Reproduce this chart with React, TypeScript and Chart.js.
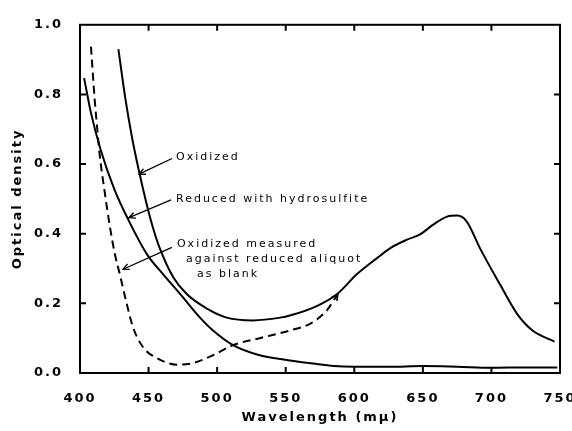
import React, { useEffect, useRef } from "react";
import { Chart, registerables } from "chart.js";

Chart.register(...registerables);

// Wavelength (mμ) and optical density for each curve
const oxidizedWl = [428, 433, 438, 443, 448, 453, 458, 468, 478, 492.6, 507, 526, 546, 553, 573, 587.5, 602, 616.6, 626, 638.5, 648, 657.5, 667.7, 675, 682, 691.7, 706, 718.7, 730, 746];
const oxidizedOD = [0.93, 0.79, 0.675, 0.58, 0.495, 0.42, 0.36, 0.275, 0.226, 0.185, 0.159, 0.151, 0.159, 0.165, 0.193, 0.227, 0.284, 0.33, 0.358, 0.383, 0.398, 0.426, 0.449, 0.452, 0.435, 0.358, 0.256, 0.17, 0.122, 0.09];

const reducedWl = [403, 408, 415, 425, 435, 449, 460.5, 473, 487.5, 497, 511.6, 531, 553, 570, 585, 600, 625, 650, 675, 700, 725, 748];
const reducedOD = [0.847, 0.747, 0.642, 0.528, 0.442, 0.34, 0.284, 0.227, 0.159, 0.122, 0.08, 0.051, 0.036, 0.027, 0.02, 0.018, 0.018, 0.02, 0.018, 0.015, 0.016, 0.016];

const blankWl = [408, 410.7, 412, 414.4, 418, 421.8, 425.5, 429, 434, 438.7, 446, 456, 470.7, 482, 497, 511.6, 531, 553, 568, 580, 588];
const blankOD = [0.937, 0.785, 0.727, 0.625, 0.52, 0.42, 0.34, 0.284, 0.2, 0.131, 0.074, 0.043, 0.024, 0.028, 0.051, 0.08, 0.1, 0.122, 0.142, 0.18, 0.227];

const xTicks = [400, 450, 500, 550, 600, 650, 700, 750];
const yTicks = [0, 0.2, 0.4, 0.6, 0.8, 1.0];

// Annotation labels (anchored in data coordinates)
const labelTexts = ["Oxidized", "Reduced with hydrosulfite", "Oxidized measured", "against reduced aliquot", "as blank"];
const labelWl = [470, 470, 470.7, 477.3, 485.3];
const labelOD = [0.62, 0.5, 0.369, 0.327, 0.284];

// Leader arrows
const arrowFromWl = [467.1, 466.4, 467];
const arrowFromOD = [0.616, 0.497, 0.361];
const arrowToWl = [443, 435.7, 431.4];
const arrowToOD = [0.571, 0.446, 0.298];

const FONT = "'DejaVu Sans', sans-serif";

function pts(xs: number[], ys: number[]) {
  return xs.map((x, i) => ({ x, y: ys[i] }));
}

function arrowHead(ctx: CanvasRenderingContext2D, fx: number, fy: number, tx: number, ty: number, len: number) {
  const a = Math.atan2(ty - fy, tx - fx);
  const s = 0.45;
  ctx.beginPath();
  ctx.moveTo(tx - len * Math.cos(a - s), ty - len * Math.sin(a - s));
  ctx.lineTo(tx, ty);
  ctx.lineTo(tx - len * Math.cos(a + s), ty - len * Math.sin(a + s));
  ctx.stroke();
}

const spacingPlugin = {
  id: "spacing",
  beforeUpdate(chart: any) {
    chart.ctx.letterSpacing = "2px";
  },
  beforeDraw(chart: any) {
    chart.ctx.letterSpacing = "2px";
  },
};

const framePlugin = {
  id: "frame",
  afterDatasetsDraw(chart: any) {
    const { ctx, chartArea: ca, scales } = chart;
    const xs = scales.x;
    const ys = scales.y;
    ctx.save();
    ctx.strokeStyle = "#000";
    ctx.lineWidth = 2;
    ctx.setLineDash([]);
    ctx.strokeRect(ca.left, ca.top, ca.right - ca.left, ca.bottom - ca.top);
    const tl = 6;
    ctx.beginPath();
    xTicks.slice(1, -1).forEach((v) => {
      const px = xs.getPixelForValue(v);
      ctx.moveTo(px, ca.bottom);
      ctx.lineTo(px, ca.bottom - tl);
      ctx.moveTo(px, ca.top);
      ctx.lineTo(px, ca.top + tl);
    });
    yTicks.slice(1, -1).forEach((v) => {
      const py = ys.getPixelForValue(v);
      ctx.moveTo(ca.left, py);
      ctx.lineTo(ca.left + tl, py);
      ctx.moveTo(ca.right, py);
      ctx.lineTo(ca.right - tl, py);
    });
    ctx.stroke();

    // labels
    ctx.fillStyle = "#000";
    ctx.font = `11px ${FONT}`;
    ctx.letterSpacing = "2px";
    ctx.textAlign = "left";
    ctx.textBaseline = "middle";
    labelTexts.forEach((t, i) => {
      ctx.fillText(t, xs.getPixelForValue(labelWl[i]), ys.getPixelForValue(labelOD[i]));
    });

    // leader arrows
    ctx.lineWidth = 1.3;
    arrowFromWl.forEach((_, i) => {
      const fx = xs.getPixelForValue(arrowFromWl[i]);
      const fy = ys.getPixelForValue(arrowFromOD[i]);
      const tx = xs.getPixelForValue(arrowToWl[i]);
      const ty = ys.getPixelForValue(arrowToOD[i]);
      ctx.beginPath();
      ctx.moveTo(fx, fy);
      ctx.lineTo(tx, ty);
      ctx.stroke();
      arrowHead(ctx, fx, fy, tx, ty, 7);
    });

    // arrowhead at end of dashed curve
    const n = blankWl.length;
    ctx.lineWidth = 1.6;
    arrowHead(
      ctx,
      xs.getPixelForValue(blankWl[n - 2]),
      ys.getPixelForValue(blankOD[n - 2]),
      xs.getPixelForValue(blankWl[n - 1]),
      ys.getPixelForValue(blankOD[n - 1]),
      7
    );
    ctx.restore();
  },
};

export default function App() {
  const ref = useRef<HTMLCanvasElement | null>(null);

  useEffect(() => {
    if (!ref.current) return;
    const line = {
      borderColor: "#000",
      borderWidth: 2,
      pointRadius: 0,
      fill: false,
      cubicInterpolationMode: "monotone" as const,
    };
    const chart = new Chart(ref.current, {
      type: "line",
      data: {
        datasets: [
          { ...line, label: "Oxidized", data: pts(oxidizedWl, oxidizedOD) },
          { ...line, label: "Reduced with hydrosulfite", data: pts(reducedWl, reducedOD) },
          { ...line, label: "Oxidized measured against reduced aliquot as blank", data: pts(blankWl, blankOD), borderDash: [8, 5] },
        ],
      },
      options: {
        animation: false,
        responsive: false,
        layout: { padding: { top: 21, right: 12, left: 0, bottom: 0 } },
        plugins: { legend: { display: false }, tooltip: { enabled: false } },
        scales: {
          x: {
            type: "linear",
            min: 400,
            max: 750,
            grid: { display: false, drawTicks: false },
            border: { display: false },
            ticks: {
              stepSize: 50,
              color: "#000",
              padding: 18,
              maxRotation: 0,
              font: { family: FONT, size: 13, weight: "bold" },
            },
            title: {
              display: true,
              text: "Wavelength (mμ)",
              color: "#000",
              font: { family: FONT, size: 13, weight: "bold" },
              padding: { top: 0, bottom: 6 },
            },
            afterFit: (s: any) => {
              s.height = 58;
              s.paddingLeft = 0;
              s.paddingRight = 0;
            },
          },
          y: {
            type: "linear",
            min: 0,
            max: 1.0,
            grid: { display: false, drawTicks: false },
            border: { display: false },
            ticks: {
              stepSize: 0.2,
              color: "#000",
              padding: 17,
              font: { family: FONT, size: 13, weight: "bold" },
              callback: (v: any) => Number(v).toFixed(1),
            },
            title: {
              display: true,
              text: "Optical density",
              color: "#000",
              font: { family: FONT, size: 13, weight: "bold" },
              padding: { top: 10, bottom: 0 },
            },
            afterFit: (s: any) => {
              s.width = 80;
            },
          },
        },
      },
      plugins: [spacingPlugin, framePlugin],
    } as any);
    return () => chart.destroy();
  }, []);

  return (
    <div style={{ position: "fixed", left: 0, top: 0, width: 572, height: 431, background: "#fff" }}>
      <canvas ref={ref} width={572} height={431} style={{ display: "block" }} />
    </div>
  );
}
